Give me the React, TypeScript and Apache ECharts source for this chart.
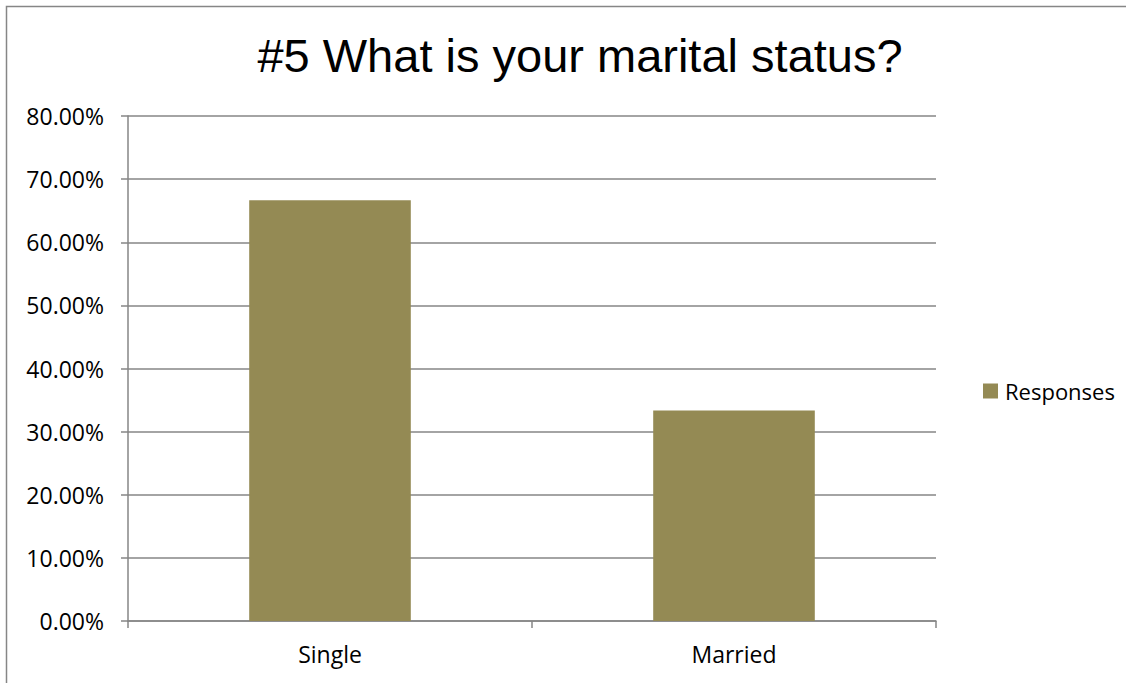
import React, { useEffect, useRef } from "react";
import * as echarts from "echarts";

const categories = ["Single", "Married"];
const responses = [66.67, 33.33];
const seriesName = "Responses";
const titleText = "#5 What is your marital status?";

export default function App() {
  const ref = useRef<HTMLDivElement>(null);
  useEffect(() => {
    document.body.style.margin = "0";
    const chart = echarts.init(ref.current!, null, { renderer: "svg" });
    chart.setOption({
      animation: false,
      backgroundColor: "#ffffff",
      title: {
        text: titleText,
        left: 575,
        textAlign: "center",
        top: 27,
        textStyle: {
          fontFamily: "Liberation Sans, Arial, sans-serif",
          fontSize: 47,
          fontWeight: "normal",
          color: "#000000",
        },
      },
      graphic: [
        {
          type: "rect",
          shape: { x: 6.5, y: 6.5, width: 1130, height: 700 },
          style: { fill: "none", stroke: "#868686", lineWidth: 1.5 },
          silent: true,
        },
      ],
      legend: {
        data: [seriesName],
        orient: "vertical",
        left: 978,
        top: 375,
        itemWidth: 15,
        itemHeight: 15,
        itemGap: 8,
        icon: "rect",
        textStyle: {
          fontFamily: "Open Sans, Noto Sans, sans-serif",
          fontSize: 22,
          color: "#000000",
          padding: [0, 0, 0, 2],
        },
      },
      grid: { left: 128, right: 190, top: 116, bottom: 62 },
      xAxis: {
        type: "category",
        data: categories,
        axisLine: { lineStyle: { color: "#868686", width: 1.5 } },
        axisTick: { show: true, length: 7, alignWithLabel: false, lineStyle: { color: "#868686", width: 1.5 } },
        axisLabel: {
          margin: 21,
          fontFamily: "Open Sans, Noto Sans, sans-serif",
          fontSize: 23,
          color: "#000000",
        },
      },
      yAxis: {
        type: "value",
        min: 0,
        max: 80,
        interval: 10,
        axisLine: { show: true, lineStyle: { color: "#868686", width: 1.5 } },
        axisTick: { show: true, length: 7, inside: false, lineStyle: { color: "#868686", width: 1.5 } },
        splitLine: { lineStyle: { color: "#868686", width: 1.5 } },
        axisLabel: {
          margin: 24,
          formatter: (v: number) => v.toFixed(2) + "%",
          fontFamily: "Open Sans, Noto Sans, sans-serif",
          fontSize: 23,
          color: "#000000",
        },
      },
      series: [
        {
          name: seriesName,
          type: "bar",
          data: responses,
          barWidth: "40%",
          itemStyle: { color: "#948A54" },
        },
      ],
    });
    return () => chart.dispose();
  }, []);
  return <div ref={ref} style={{ width: 1126, height: 683 }} />;
}
